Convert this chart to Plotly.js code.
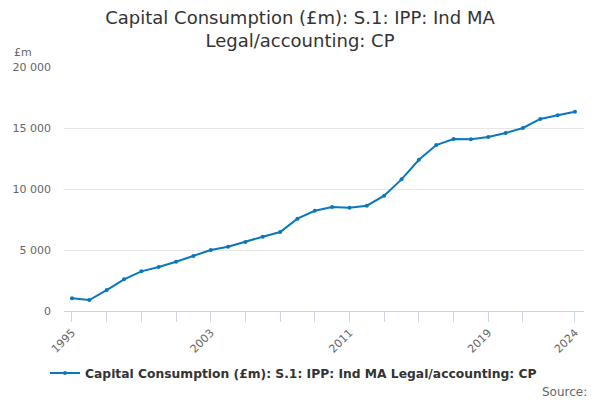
<!DOCTYPE html>
<html>
<head>
<meta charset="utf-8">
<script src="https://cdn.plot.ly/plotly-3.0.1.min.js"></script>
<style>
  html, body { margin: 0; padding: 0; background: #fff; }
  #chart { width: 600px; height: 400px; }
</style>
</head>
<body>
<div id="chart"></div>
<script>
// values (£m)
var years = [1995, 1996, 1997, 1998, 1999, 2000, 2001, 2002, 2003, 2004,
             2005, 2006, 2007, 2008, 2009, 2010, 2011, 2012, 2013, 2014,
             2015, 2016, 2017, 2018, 2019, 2020, 2021, 2022, 2023, 2024];
var values = [1050, 900, 1720, 2600, 3250, 3600, 4040, 4500, 5000, 5270,
              5650, 6090, 6475, 7570, 8220, 8525, 8470, 8630, 9450, 10790,
              12400, 13600, 14100, 14070, 14260, 14590, 15000, 15740, 16040, 16340];
var tickYears = [1995, 1997, 1999, 2001, 2003, 2005, 2007, 2009, 2011, 2013,
                 2015, 2017, 2019, 2021, 2024];
var labelYears = [1995, 2003, 2011, 2019, 2024];
var yTicks = [0, 5000, 10000, 15000, 20000];

var seriesName = "Capital Consumption (£m): S.1: IPP: Ind MA Legal/accounting: CP";
var font = "DejaVu Sans, Verdana, sans-serif";

var tickText = tickYears.map(function (y) {
    return labelYears.indexOf(y) >= 0 ? String(y) : "";
});

var trace = {
    x: years, y: values, type: 'scatter', mode: 'lines+markers', name: seriesName,
    line: {color: '#0a77bd', width: 2},
    marker: {color: '#0a77bd', size: 4}
};

var layout = {
    width: 600, height: 400,
    margin: {l: 64, r: 16, t: 67, b: 89},
    paper_bgcolor: '#fff', plot_bgcolor: '#fff',
    separators: '. ',
    font: {family: font, color: '#333'},
    title: {text: "Capital Consumption (£m): S.1: IPP: Ind MA<br>Legal/accounting: CP",
            font: {family: font, size: 18, color: '#333'}, x: 0.5, xanchor: 'center', y: 0.94, yanchor: 'top'},
    showlegend: true,
    legend: {orientation: 'h', x: -0.0365, xanchor: 'left', y: -0.254, yanchor: 'middle', itemwidth: 30,
             font: {family: font, size: 12.3, color: '#333', weight: 'bold'}},
    xaxis: {
        range: [1994.54, 2024.52], tickmode: 'array', tickvals: tickYears, ticktext: tickText,
        tickangle: -45, tickfont: {size: 11, color: '#666'},
        showgrid: false, zeroline: false,
        showline: true, linecolor: '#ccd6eb', linewidth: 1,
        ticks: 'outside', ticklen: 10, tickcolor: '#ccd6eb'
    },
    yaxis: {
        range: [0, 20000], tickmode: 'array', tickvals: yTicks, tickformat: ',d',
        tickfont: {size: 11, color: '#666'},
        showgrid: true, gridcolor: '#e6e6e6', zeroline: false, showline: false,
        ticks: '', ticklabelstandoff: 12
    },
    annotations: [
        {text: "£m", xref: 'paper', yref: 'paper', x: -0.1, y: 1.06, xanchor: 'left', yanchor: 'middle',
         showarrow: false, font: {size: 11, color: '#666'}},
        {text: "Source:", xref: 'paper', yref: 'paper', x: 1.01, y: -0.33, xanchor: 'right', yanchor: 'middle',
         showarrow: false, font: {size: 12, color: '#666'}}
    ]
};

Plotly.newPlot('chart', [trace], layout, {displayModeBar: false});
</script>
</body>
</html>
